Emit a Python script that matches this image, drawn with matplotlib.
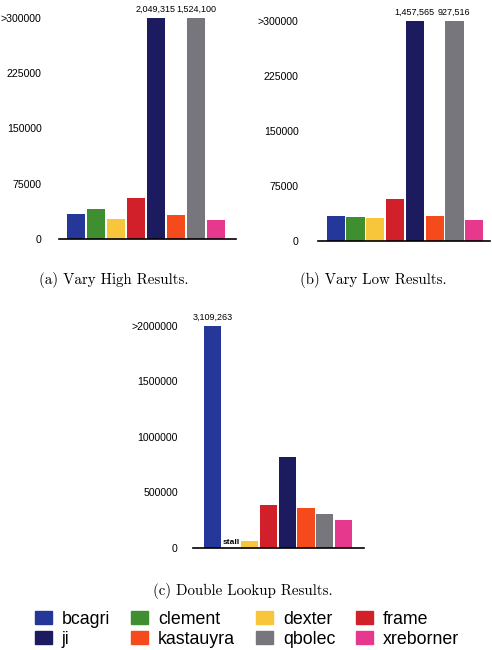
import matplotlib
matplotlib.use("Agg")
import matplotlib.pyplot as plt
from matplotlib.patches import Patch
import numpy as np

# data
names = ["bcagri", "clement", "dexter", "frame", "ji", "kastauyra", "qbolec", "xreborner"]
colors = ["#25389a", "#3f8e2f", "#f7c63a", "#d2202b", "#1d1b60", "#f44a1c", "#77767d", "#e6388c"]

vary_high = [33500, 40800, 27600, 55300, 2049315, 32600, 1524100, 25800]
vary_low = [34100, 32700, 30500, 56400, 1457565, 33600, 927516, 27700]
double_lookup = [3109263, 0, 57000, 384000, 820000, 357000, 300000, 246000]
stalled = [False, True, False, False, False, False, False, False]

high_ticks = [0, 75000, 150000, 225000, 300000]
high_labels = ["0", "75000", "150000", "225000", ">300000"]
dl_ticks = [0, 500000, 1000000, 1500000, 2000000]
dl_labels = ["0", "500000", "1000000", "1500000", ">2000000"]

sans = ["Liberation Sans", "DejaVu Sans"]
serif = ["cmr10", "DejaVu Serif"]

fig = plt.figure(figsize=(4.92, 6.5), dpi=100)


def panel(rect, vals, cap, ticks, labels, xlim, pad, stall=None):
    ax = fig.add_axes(rect)
    x = np.arange(len(vals))
    heights = np.minimum(vals, cap)
    ax.bar(x, heights, width=0.92, color=colors)
    for xi, v in zip(x, vals):
        if v > cap:
            ax.annotate(f"{v:,}", (xi, cap), xytext=(0, 3), textcoords="offset points",
                        ha="center", va="bottom", fontsize=6.5, family=sans, clip_on=False)
    if stall is not None:
        for xi, s in zip(x, stall):
            if s:
                ax.text(xi, cap * 0.006, "stall", ha="center", va="bottom",
                        fontsize=6, family=sans, fontweight="bold")
    ax.set_ylim(0, cap)
    ax.set_xlim(*xlim)
    ax.set_yticks(ticks)
    ax.set_yticklabels(labels, family=sans, fontsize=7.6)
    ax.set_xticks([])
    ax.tick_params(axis="y", length=0, pad=pad)
    for s in ["top", "right", "left"]:
        ax.spines[s].set_visible(False)
    ax.spines["bottom"].set_linewidth(1.2)
    ax.patch.set_alpha(0)
    return ax


panel([59 / 492, 1 - 239 / 650, 177 / 492, 221 / 650], vary_high, 300000,
      high_ticks, high_labels, (-0.85, 8.0), 12.5)
panel([318 / 492, 1 - 240.7 / 650, 172 / 492, 220 / 650], vary_low, 300000,
      high_ticks, high_labels, (-0.9, 7.8), 14)
panel([193 / 492, 1 - 547.7 / 650, 171 / 492, 222 / 650], double_lookup, 2000000,
      dl_ticks, dl_labels, (-1.03, 8.09), 11, stall=stalled)

fig.text(114 / 492, 1 - 280 / 650, "(a) Vary High Results.", ha="center", va="center",
         family=serif, fontsize=10.8)
fig.text(373 / 492, 1 - 280 / 650, "(b) Vary Low Results.", ha="center", va="center",
         family=serif, fontsize=10.8)
fig.text(243 / 492, 1 - 591 / 650, "(c) Double Lookup Results.", ha="center", va="center",
         family=serif, fontsize=10.8)

# legend fills column by column
order = [0, 4, 1, 5, 2, 6, 3, 7]
handles = [Patch(color=colors[i], label=names[i]) for i in order]
fig.legend(handles=handles, ncol=4, loc="upper left", bbox_to_anchor=(35 / 492, 1 - 611 / 650),
           frameon=False, prop={"family": sans, "size": 12.8}, handlelength=0.95,
           handleheight=0.75, handletextpad=0.56, columnspacing=1.18, labelspacing=0.15,
           borderaxespad=0, borderpad=0)

fig.savefig("out.png", dpi=100)
